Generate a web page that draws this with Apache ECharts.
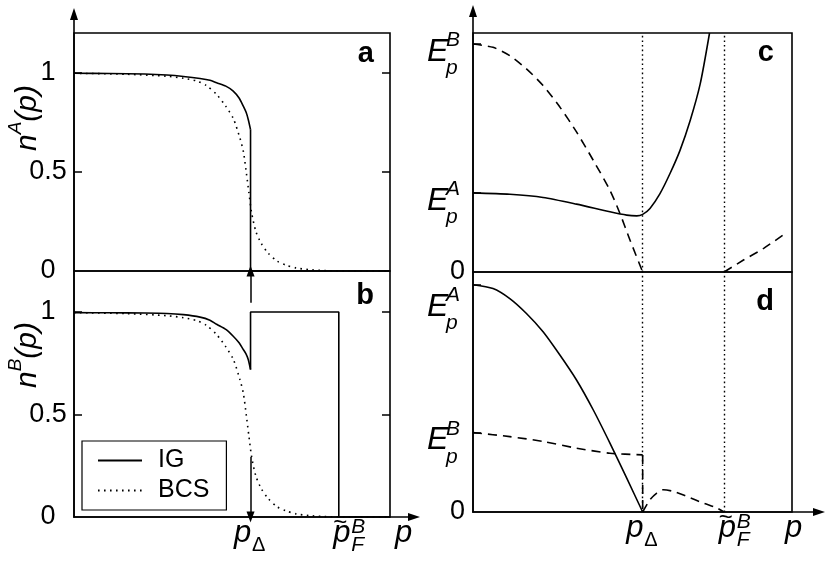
<!DOCTYPE html>
<html>
<head>
<meta charset="utf-8">
<script src="https://cdn.jsdelivr.net/npm/echarts@6/dist/echarts.min.js"></script>
<style>
  html, body { margin: 0; padding: 0; background: #fff; }
  #main { width: 830px; height: 574px; }
</style>
</head>
<body>
<div id="main"></div>
<script>
// panel a: n^A(p)
const pA_IG = [0, 0.2, 0.4, 0.526, 0.62, 0.714, 0.77, 0.808, 0.86, 0.902, 0.935, 0.959, 0.975, 0.987, 1.0]
const nA_IG = [0.997, 0.996, 0.993, 0.988, 0.981, 0.971, 0.962, 0.949, 0.932, 0.907, 0.872, 0.831, 0.8, 0.764, 0.713]
const pA_drop = [1.0, 1.0, 1.79]
const nA_drop = [0.713, 0, 0]

// BCS distribution (same in a and b)
const pBCS = [0, 0.3, 0.526, 0.62, 0.695, 0.75, 0.808, 0.86, 0.902, 0.94, 0.96, 0.977, 0.99, 1.006, 1.03, 1.06, 1.1, 1.15, 1.2, 1.26, 1.33, 1.42, 1.55, 1.79]
const nBCS = [0.997, 0.992, 0.982, 0.972, 0.958, 0.935, 0.89, 0.83, 0.77, 0.67, 0.6, 0.49, 0.4, 0.294, 0.2, 0.14, 0.09, 0.05, 0.03, 0.015, 0.007, 0.002, 0, 0]

// panel b: n^B(p)
const pB_IG = [0, 0.2, 0.4, 0.526, 0.62, 0.714, 0.77, 0.808, 0.86, 0.902, 0.935, 0.959, 0.975, 0.987, 1.0]
const nB_IG = [0.997, 0.996, 0.995, 0.993, 0.987, 0.975, 0.96, 0.94, 0.915, 0.882, 0.85, 0.817, 0.795, 0.768, 0.719]
const pB_step = [1.0, 1.0, 1.5, 1.5, 1.79]
const nB_step = [0.719, 1.0, 1.0, 0, 0]

// panel c: energies
const pC_A = [0, 0.217, 0.413, 0.61, 0.807, 0.906, 0.965, 1.0, 1.043, 1.102, 1.161, 1.22, 1.28, 1.339, 1.394]
const eC_A = [0.331, 0.325, 0.312, 0.284, 0.252, 0.238, 0.235, 0.241, 0.266, 0.328, 0.412, 0.509, 0.634, 0.787, 1.0]
const pC_B1 = [0, 0.118, 0.217, 0.315, 0.413, 0.512, 0.61, 0.709, 0.807, 0.866, 0.925, 1.0]
const eC_B1 = [0.954, 0.94, 0.905, 0.85, 0.78, 0.69, 0.586, 0.467, 0.342, 0.245, 0.134, 0]
const pC_B2 = [1.48, 1.594, 1.713, 1.84]
const eC_B2 = [0, 0.05, 0.099, 0.161]

// panel d
const pD_A = [0, 0.118, 0.217, 0.315, 0.413, 0.512, 0.61, 0.709, 0.807, 0.906, 1.0]
const eD_A = [0.947, 0.931, 0.889, 0.827, 0.751, 0.654, 0.55, 0.425, 0.287, 0.141, 0]
const pD_B1 = [0, 0.217, 0.413, 0.61, 0.807, 1.0]
const eD_B1 = [0.331, 0.314, 0.294, 0.266, 0.245, 0.238]
const pD_drop = [1.0, 1.0]
const eD_drop = [0.238, 0]
const pD_B2 = [1.0, 1.043, 1.083, 1.122, 1.18, 1.26, 1.358, 1.437, 1.48]
const eD_B2 = [0, 0.051, 0.079, 0.093, 0.086, 0.065, 0.037, 0.017, 0]

// ticks
const nTicks = [0, 0.5, 1]
const nTickLabels = ['0', '0.5', '1']
const pTicksL = [1, 1.5]
const pTicksR = [1, 1.48]
const pTickNames = ['delta', 'fermi']
const eTicksC = [0, 0.331, 0.954]
const eLabelsC = ['0', 'A', 'B']
const eTicksD = [0, 0.331, 0.947]
const eLabelsD = ['0', 'B', 'A']

const FONT = 'Liberation Sans'
const BLACK = '#000'

function pick(v, ticks, labels) {
  const i = ticks.findIndex(t => Math.abs(t - v) < 1e-6)
  return i < 0 ? '' : labels[i]
}

// low = push the label further below its tick (top label of d sits under the "0" of c)
function eText(v, ticks, labels, low) {
  const L = pick(v, ticks, labels)
  if (L === '0' || L === '') return L
  const z = low && v > 0.9 ? 'zl' : 'z'
  return '{' + z + '| }\n{g| }{sup|' + L + '}\n{E|E}\n{g| }{sub|p}'
}

function pText(v, ticks) {
  const n = pick(v, ticks, pTickNames)
  if (n === 'delta') return '{s0| }\n{p|p}\n{ps| }{subD|Δ}'
  if (n === 'fermi') return '{sl| }{t|~}\n{sl| }{p|p}{sup|B}\n{sl| }{ps| }{subF|F}'
  return ''
}

const eRich = {
  z: { width: 1, lineHeight: 26, fontSize: 10, align: 'left' },
  zl: { width: 1, lineHeight: 54, fontSize: 10, align: 'left' },
  g: { width: 19, lineHeight: 7, fontSize: 10, align: 'left' },
  sup: { fontSize: 21, fontStyle: 'italic', lineHeight: 7, width: 16, align: 'left', color: BLACK },
  E: { fontSize: 32, fontStyle: 'italic', lineHeight: 16, width: 38, align: 'left', color: BLACK },
  sub: { fontSize: 21, fontStyle: 'italic', lineHeight: 17, width: 16, align: 'left', color: BLACK }
}

const pRich = {
  s0: { width: 1, lineHeight: 6, fontSize: 10, align: 'left' },
  sl: { width: 24, lineHeight: 6, fontSize: 10, align: 'left' },
  t: { fontSize: 24, lineHeight: 6, width: 17, align: 'left', color: BLACK },
  p: { fontSize: 31, fontStyle: 'italic', lineHeight: 14, width: 18, align: 'left', color: BLACK },
  ps: { width: 18, lineHeight: 10, fontSize: 10, align: 'left' },
  subD: { fontSize: 20, lineHeight: 10, width: 15, align: 'left', color: BLACK },
  subF: { fontSize: 21, fontStyle: 'italic', lineHeight: 10, width: 15, align: 'left', color: BLACK },
  sup: { fontSize: 21, fontStyle: 'italic', verticalAlign: 'top', height: 2, lineHeight: 2, width: 17, align: 'left', color: BLACK }
}

function line(name, xs, ys, xi, type, smooth) {
  return {
    name: name,
    type: 'line',
    xAxisIndex: xi,
    yAxisIndex: [0, 2, 4, 5][xi],
    data: xs.map((x, i) => [x, ys[i]]),
    symbol: 'none',
    smooth: smooth ? 0.25 : false,
    silent: true,
    lineStyle: { color: BLACK, width: 1.6, type: type },
    itemStyle: { color: BLACK }
  }
}

const SOLID = 'solid'
const DOT = [1.6, 4.4]
const DASH = [9, 6]
const VDOT = [1.6, 3]

const frame = { show: true, borderColor: BLACK, borderWidth: 1.6, backgroundColor: 'transparent' }

const hidden = { axisLine: { show: false }, axisTick: { show: false }, axisLabel: { show: false }, splitLine: { show: false } }

function panelX(grid, max, ticks, withName, nameGap) {
  const ax = Object.assign({}, hidden, { type: 'value', gridIndex: grid, min: 0, max: max })
  if (ticks) {
    ax.axisLabel = {
      show: true, customValues: ticks, margin: 3, color: BLACK, fontSize: 25, fontFamily: FONT,
      formatter: v => pText(v, ticks), rich: pRich
    }
  }
  if (withName) {
    ax.name = 'p'
    ax.nameLocation = 'end'
    ax.nameGap = nameGap
    ax.nameTextStyle = { fontSize: 31, fontStyle: 'italic', color: BLACK, fontFamily: FONT, verticalAlign: 'top', lineHeight: 20, padding: [6, 0, 0, 0] }
  }
  return ax
}

function nY(grid, right) {
  return {
    type: 'value', gridIndex: grid, min: 0, max: 1.2, position: right ? 'right' : 'left',
    axisLine: { show: false }, splitLine: { show: false },
    axisTick: { show: true, inside: true, length: 8, customValues: [0.5, 1], lineStyle: { color: BLACK, width: 1.5 } },
    axisLabel: right ? { show: false } : {
      show: true, customValues: nTicks, align: 'center', margin: 26, color: BLACK, fontSize: 27, fontFamily: FONT,
      formatter: v => pick(v, nTicks, nTickLabels)
    }
  }
}

function eY(grid, ticks, labels, low) {
  return {
    type: 'value', gridIndex: grid, min: 0, max: 1,
    axisLine: { show: false }, splitLine: { show: false },
    axisTick: { show: true, inside: true, length: 8, customValues: ticks.slice(1), lineStyle: { color: BLACK, width: 1.5 } },
    axisLabel: {
      show: true, customValues: ticks, align: 'right', margin: 8, color: BLACK, fontSize: 27, fontFamily: FONT,
      formatter: v => eText(v, ticks, labels, low), rich: eRich
    }
  }
}

function arrowAxis(grid) {
  return {
    type: 'value', gridIndex: grid, min: 0, max: 1,
    axisLine: { show: true, onZero: false, symbol: ['none', 'triangle'], symbolSize: [8, 12], lineStyle: { color: BLACK, width: 1.6 } },
    axisTick: { show: false }, axisLabel: { show: false }, splitLine: { show: false }
  }
}

const vlines = {
  silent: true, symbol: 'none', label: { show: false },
  lineStyle: { color: BLACK, type: VDOT, width: 1.4 },
  data: [{ xAxis: pTicksR[0] }, { xAxis: pTicksR[1] }]
}

const series = [
  // a
  line('IG', pA_IG, nA_IG, 0, SOLID, true),
  line('IG', pA_drop, nA_drop, 0, SOLID, false),
  line('BCS', pBCS, nBCS, 0, DOT, true),
  // b
  line('IG', pB_IG, nB_IG, 1, SOLID, true),
  Object.assign(line('IG', pB_step, nB_step, 1, SOLID, false), {
    markLine: {
      silent: true, symbol: ['none', 'triangle'], symbolSize: [8, 11], label: { show: false },
      lineStyle: { color: BLACK, type: 'solid', width: 1.5 },
      data: [
        [{ coord: [1, 1.045] }, { coord: [1, 1.2] }],
        [{ coord: [1, 0.293] }, { coord: [1, 0] }]
      ]
    }
  }),
  line('BCS', pBCS, nBCS, 1, DOT, true),
  // c
  Object.assign(line('EcA', pC_A, eC_A, 2, SOLID, true), { markLine: vlines }),
  line('EcB', pC_B1, eC_B1, 2, DASH, true),
  line('EcB', pC_B2, eC_B2, 2, DASH, true),
  // d
  Object.assign(line('EdA', pD_A, eD_A, 3, SOLID, true), { markLine: vlines }),
  line('EdB', pD_B1, eD_B1, 3, DASH, true),
  line('EdB', pD_drop, eD_drop, 3, DASH, false),
  line('EdB', pD_B2, eD_B2, 3, DASH, true)
]

function panelLetter(t, x, y) {
  return { type: 'text', x: x, y: y, silent: true,
    style: { text: t, fill: BLACK, fontSize: 29, fontWeight: 'bold', fontFamily: FONT, align: 'right', verticalAlign: 'middle' } }
}

function yName(sup, y) {
  return { type: 'text', x: 28, y: y, rotation: Math.PI / 2, silent: true,
    style: {
      text: '{n|n}{s|' + sup + '}{n|(p)}', align: 'center', verticalAlign: 'middle', fill: BLACK,
      rich: {
        n: { fontSize: 30, fontStyle: 'italic', fontFamily: FONT, lineHeight: 34, fill: BLACK },
        s: { fontSize: 19, fontStyle: 'italic', fontFamily: FONT, lineHeight: 34, height: 9, verticalAlign: 'top', fill: BLACK }
      }
    } }
}

const chart = echarts.init(document.getElementById('main'), null, { renderer: 'canvas' })
chart.setOption({
  animation: false,
  backgroundColor: '#fff',
  color: [BLACK],
  textStyle: { fontFamily: FONT, color: BLACK },
  grid: [
    Object.assign({ left: 74, top: 33, width: 316, height: 238 }, frame),
    Object.assign({ left: 74, top: 271, width: 316, height: 246 }, frame),
    Object.assign({ left: 473, top: 33, width: 319, height: 239 }, frame),
    Object.assign({ left: 473, top: 272, width: 319, height: 240 }, frame),
    { left: 74, top: 14, width: 340, height: 503, show: false },
    { left: 473, top: 11, width: 346, height: 501, show: false }
  ],
  xAxis: [
    panelX(0, 1.79, null, false),
    panelX(1, 1.79, pTicksL, true, 5),
    panelX(2, 1.88, null, false),
    panelX(3, 1.88, pTicksR, true, -7),
    arrowAxis(4),
    arrowAxis(5)
  ],
  yAxis: [
    nY(0, false), nY(0, true),
    nY(1, false), nY(1, true),
    eY(2, eTicksC, eLabelsC, false),
    eY(3, eTicksD, eLabelsD, true),
    arrowAxis(4),
    arrowAxis(5)
  ],
  legend: {
    data: ['IG', 'BCS'],
    orient: 'vertical',
    left: 82, top: 441,
    backgroundColor: '#fff',
    borderColor: BLACK, borderWidth: 1.2, borderRadius: 0,
    padding: [7, 17, 7, 15],
    itemWidth: 44, itemHeight: 14, itemGap: 5,
    itemStyle: { opacity: 0 },
    selectedMode: false,
    textStyle: { fontSize: 25, color: BLACK, fontFamily: FONT, padding: [0, 0, 0, 11] }
  },
  graphic: [
    yName('A', 118),
    yName('B', 355),
    panelLetter('a', 374, 54),
    panelLetter('b', 374, 296),
    panelLetter('c', 774, 53),
    panelLetter('d', 774, 302)
  ],
  series: series
})
</script>
</body>
</html>
